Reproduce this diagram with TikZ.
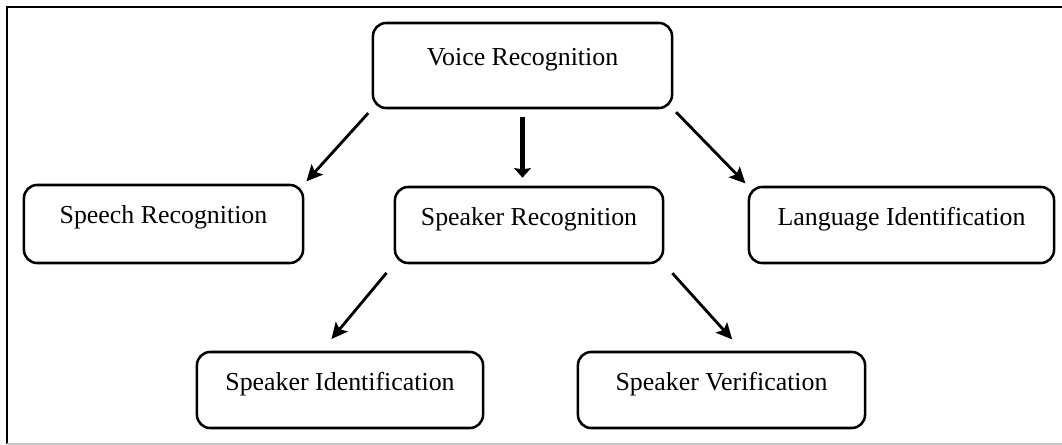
\documentclass[tikz,border=0pt]{standalone}
\usepackage{fontspec}
\setmainfont{Liberation Serif}
\usetikzlibrary{arrows.meta}

\begin{document}
\begin{tikzpicture}[x=0.025cm, y=-0.025cm,
  procbox/.style={draw, rounded corners=0.33cm, line width=1.8pt, inner sep=0pt,
    text height=0.3cm, text depth=0.3cm, minimum height=1.9cm,
    font=\fontsize{18.4}{22}\selectfont},
  thinarrow/.style={line width=2pt, -{Stealth[length=0.4cm, width=0.38cm, inset=0.08cm]}},
  thickarrow/.style={line width=4.2pt, -{Stealth[length=0.24cm, width=0.42cm, inset=0.03cm]}}]

\useasboundingbox (0,0) rectangle (1062,445);

\draw[line width=2pt] (1062,7)--(7,7)--(7,444);
\draw[gray!45, line width=0.8pt] (7,444)--(1062,444);

\node[procbox, minimum width=7.475cm, minimum height=2.125cm] (voice) at (522.5,65.5) {Voice Recognition};

\node[procbox, minimum width=6.975cm, minimum height=1.95cm] (speech) at (163.5,224) {Speech Recognition};
\node[procbox, minimum width=6.7cm] (spkrec) at (529,225) {Speaker Recognition};
\node[procbox, minimum width=7.625cm] (lang) at (901.5,225) {Language Identification};

\node[procbox, minimum width=7.15cm] (spkid) at (340,390) {Speaker Identification};
\node[procbox, minimum width=7.175cm] (spkver) at (721.5,390) {Speaker Verification};

\draw[thinarrow, shorten <=0.13cm, shorten >=0.08cm] (voice.south west)--(speech.north east);
\draw[thickarrow, shorten <=0.2cm, shorten >=0.2cm] (voice.south)--(voice.south |- spkrec.north);
\draw[thinarrow, shorten <=0.1cm, shorten >=0.08cm] (voice.south east)--(lang.north west);

\draw[thinarrow, shorten <=0.28cm, shorten >=0.38cm] (spkrec.south west)--(spkid.115);
\draw[thinarrow, shorten <=0.3cm, shorten >=0.38cm] (spkrec.south east)--(spkver.62);

\end{tikzpicture}
\end{document}
